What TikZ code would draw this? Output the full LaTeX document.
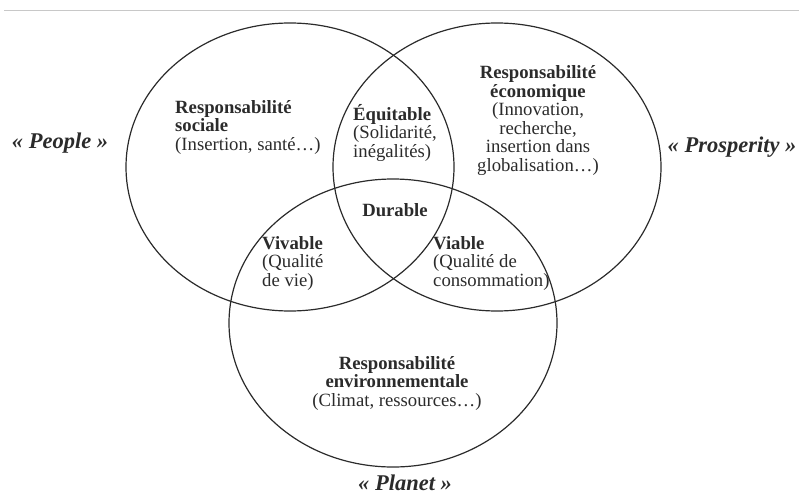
\documentclass[tikz,border=0pt]{standalone}
\usepackage{fontspec}
\setmainfont{Liberation Serif}
\usetikzlibrary{positioning}
\definecolor{rule}{HTML}{C8C8C8}
\definecolor{ink}{HTML}{2B2B2B}
\begin{document}
\begin{tikzpicture}[x=1pt,y=-1pt,
  every node/.style={font=\fontsize{18.7}{18.5}\selectfont,inner sep=0pt,text=ink},
  ring/.style={draw=ink,line width=1.2pt},
  pillar/.style={font=\fontsize{22.5}{24}\selectfont\bfseries\itshape}
]
\useasboundingbox (0,0) rectangle (799,495);
\draw[rule,line width=1pt] (4,11) -- (799,11);

% three spheres
\draw[ring] (290,167) ellipse [x radius=164,y radius=144];
\draw[ring] (497,167) ellipse [x radius=164,y radius=144];
\draw[ring] (393,323) ellipse [x radius=164,y radius=144];

\node[anchor=west,align=left] (social) at (175,127)
  {\textbf{Responsabilité}\\\textbf{sociale}\\(Insertion, santé…)};
\node[align=center] (eco) at (538,120.5)
  {\textbf{Responsabilité}\\\textbf{économique}\\(Innovation,\\recherche,\\insertion dans\\globalisation…)};
\node[align=center] (env) at (397,383)
  {\textbf{Responsabilité}\\\textbf{environnementale}\\(Climat, ressources…)};

\node[anchor=west,align=left] (equit) at (353,132.5)
  {\textbf{Équitable}\\(Solidarité,\\inégalités)};
\node (durable) at (395,210) {\textbf{Durable}};
\node[anchor=west,align=left] (vivable) at (262,263)
  {\textbf{Vivable}\\(Qualité\\de vie)};
\node[anchor=west,align=left] (viable) at (433,263)
  {\textbf{Viable}\\(Qualité de\\consommation)};

\node[pillar] (people) at (60,143) {« People »};
\node[pillar] (prosp) at (732,147) {« Prosperity »};
\node[pillar] (planet) at (405,483) {« Planet »};
\end{tikzpicture}
\end{document}
